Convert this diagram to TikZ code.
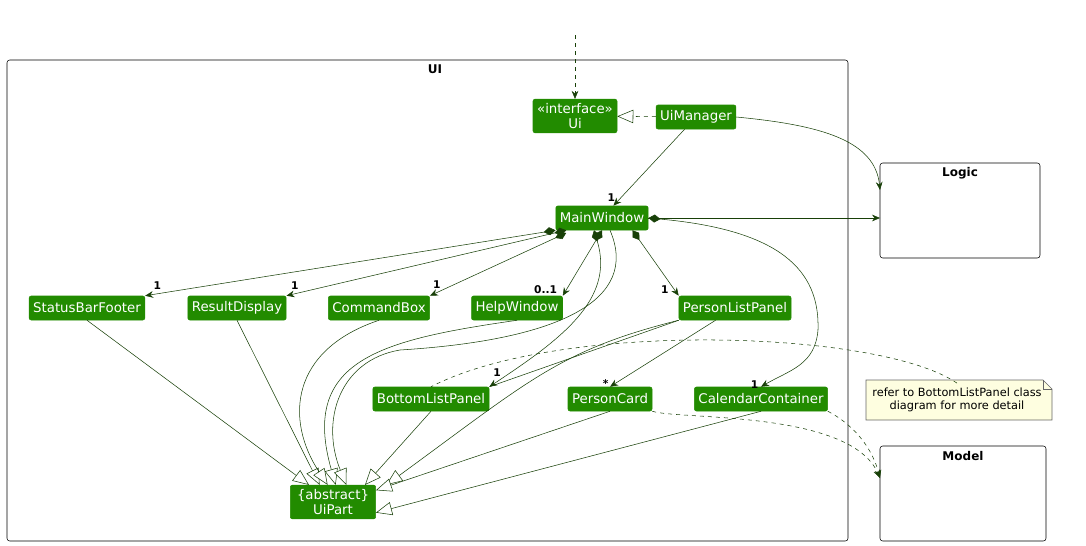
\documentclass[tikz,border=0pt]{standalone}
\usepackage{fontspec}
\setmainfont{DejaVu Sans}
\usetikzlibrary{arrows.meta}
\definecolor{cf}{RGB}{34,139,0}
\definecolor{ln}{RGB}{24,64,8}
\definecolor{nt}{RGB}{254,254,224}
\begin{document}
\begin{tikzpicture}[x=0.75pt,y=-0.75pt,
 cls/.style={fill=cf,draw=cf,rounded corners=1.5pt,text=white,font=\fontsize{10}{11.5}\selectfont,inner sep=3pt,minimum height=18pt,align=center},
 pkg/.style={draw=black,rounded corners=2pt},
 e/.style={draw=ln,-{Stealth[length=6pt,width=5pt]}},
 comp/.style={draw=ln,{Diamond[length=9pt,width=6pt,fill=ln]}-{Stealth[length=6pt,width=5pt]}},
 gen/.style={draw=ln,-{Triangle[open,length=12pt,width=10pt,fill=white]}},
 m/.style={font=\fontsize{8}{9}\selectfont\bfseries,text=black,inner sep=1pt}]
\useasboundingbox (0,0) rectangle (1086,546);
\draw[pkg] (7,60) rectangle (848,541);
\node[font=\fontsize{9}{10}\selectfont\bfseries] (uil) at (435,69) {UI};
\draw[pkg] (880,163) rectangle (1040,258);
\node[font=\fontsize{9}{10}\selectfont\bfseries] (logl) at (960,173) {Logic};
\coordinate (logic) at (880,218);
\coordinate (logictop) at (880,190);
\draw[pkg] (880,446) rectangle (1046,541);
\node[font=\fontsize{9}{10}\selectfont\bfseries] (modl) at (963,456) {Model};
\coordinate (model) at (880,478);
\node[cls,minimum width=63pt] (ui) at (575,116) {«interface»\\Ui};
\node[cls] (uim) at (696,117) {UiManager};
\node[cls] (mw) at (602,218) {MainWindow};
\node[cls] (sbf) at (87,308) {StatusBarFooter};
\node[cls] (rd) at (237,308) {ResultDisplay};
\node[cls] (cb) at (379,308) {CommandBox};
\node[cls] (hw) at (517,308) {HelpWindow};
\node[cls] (plp) at (735,308) {PersonListPanel};
\node[cls] (blp) at (431,399) {BottomListPanel};
\node[cls] (pc) at (610,399) {PersonCard};
\node[cls] (cc) at (761,399) {CalendarContainer};
\node[cls,minimum width=64pt] (up) at (333,502) {\{abstract\}\\UiPart};
\coordinate (top) at (575,35);
\draw[draw=black!60,fill=nt] (866,380) -- (1043,380) -- (1052,389) -- (1052,420) -- (866,420) -- cycle;
\draw[black!60] (1043,380) -- (1043,389) -- (1052,389);
\node[font=\fontsize{8.5}{10}\selectfont,align=center] (note) at (957,400) {refer to BottomListPanel class\\diagram for more detail};
% edges
\draw[e,dashed] (top) -- (ui);
\draw[gen,dashed] (uim) -- (ui);
\draw[e] (uim) -- (mw) node[m,pos=0.9,left=3pt] {1};
\draw[e] (uim.east) .. controls (820,125) and (875,140) .. (logictop);
\draw[e] (mw) -- (logic);
\draw[comp] (mw.south west) -- (sbf.north east) node[m,pos=0.97,above=2pt] {1};
\draw[comp] ([xshift=8pt]mw.south west) -- (rd.north east) node[m,pos=0.97,above=2pt] {1};
\draw[comp] ([xshift=8pt,yshift=-2pt]mw.south west) -- (cb.north east) node[m,pos=0.95,above=2pt] {1};
\draw[comp] (mw.south) -- (hw.north east) node[m,pos=0.9,left=6pt] {0..1};
\draw[comp] ([xshift=-12pt]mw.south east) -- (plp.north west) node[m,pos=0.9,left=3pt] {1};
\draw[comp] (mw.east) .. controls (780,230) and (820,270) .. (818,330) .. controls (815,365) and (790,370) .. (cc.north) node[m,pos=0.95,left=4pt] {1};
\draw[comp] ([xshift=-6pt]mw.south) .. controls (615,300) and (560,340) .. (blp.north east) node[m,pos=0.95,left=2pt,above=1pt] {1};
\draw[e] (plp) -- (pc.north) node[m,pos=0.95,left=4pt] {*};
\draw[ln] (plp.south west) -- (blp.north east);
% generalizations
\draw[gen] (sbf.south) -- ([xshift=-18pt]up.north);
\draw[gen] (rd.south) -- ([xshift=-10pt]up.north);
\draw[gen] (cb.south) .. controls (290,350) and (285,420) .. ([xshift=-4pt]up.north);
\draw[gen] (hw.south) .. controls (380,340) and (300,360) .. ([xshift=2pt]up.north);
\draw[gen] (blp.south) -- ([xshift=24pt]up.north);
\draw[gen] ([xshift=6pt]mw.south) .. controls (640,300) and (560,340) .. (400,350) .. controls (340,360) and (320,420) .. ([xshift=10pt]up.north);
\draw[gen] (plp.south west) .. controls (560,350) and (530,380) .. ([xshift=40pt]up.north);
\draw[gen] (pc.south) -- ([yshift=-4pt]up.north east);
\draw[gen] (cc.south) -- ([yshift=-8pt]up.east);
% model dependencies
\draw[e,dashed] (pc.south east) .. controls (680,420) and (850,410) .. (model);
\draw[e,dashed] (cc.south east) .. controls (845,420) and (870,440) .. (model);
\draw[ln,dashed] (note.north) .. controls (880,330) and (560,320) .. (blp.north);
\end{tikzpicture}
\end{document}
